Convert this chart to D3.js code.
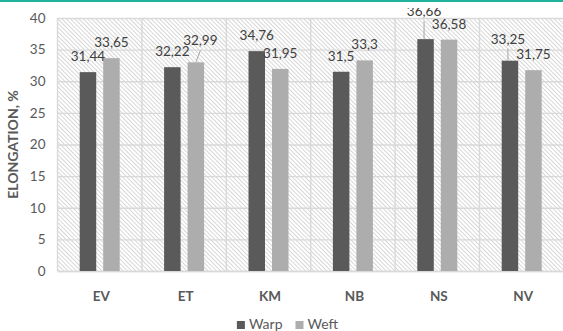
<!DOCTYPE html>
<html>
<head>
<meta charset="utf-8">
<script src="https://cdn.jsdelivr.net/npm/d3@7"></script>
<style>
  html, body { margin: 0; padding: 0; background: #fff; }
  svg { display: block; }
  text { font-family: Lato, "Liberation Sans", sans-serif; }
</style>
</head>
<body>
<svg id="chart" width="563" height="331"></svg>
<script>
// Fabric elongation by sample, warp vs weft direction
const categories = ["EV", "ET", "KM", "NB", "NS", "NV"];
const seriesNames = ["Warp", "Weft"];
const warpValues = [31.44, 32.22, 34.76, 31.5, 36.66, 33.25];
const weftValues = [33.65, 32.99, 31.95, 33.3, 36.58, 31.75];
const valueLabels = [
  ["31,44", "32,22", "34,76", "31,5", "36,66", "33,25"],
  ["33,65", "32,99", "31,95", "33,3", "36,58", "31,75"]
];
const yTicks = [0, 5, 10, 15, 20, 25, 30, 35, 40];
const yTitle = "ELONGATION, %";

// labels pulled away from crowded bars, drawn with a leader line
const labelNudge = {
  "ET|Weft": { dx: 4.5, dy: -6 },
  "NS|Warp": { dx: -1.5, dy: -12 },
  "NV|Warp": { dx: -2, dy: -6 }
};

const seriesValues = [warpValues, weftValues];
const colors = { Warp: "#5a5a5a", Weft: "#adadad" };
const textGray = "#595959";

const svg = d3.select("#chart");
const W = 563, H = 331;
const plot = { left: 57.5, right: 563.9, top: 18, bottom: 271 };
const frameTop = 8; // content below the accent band

// accent rule across the top
svg.append("rect").attr("x", 0).attr("y", 0).attr("width", W).attr("height", 2)
  .attr("fill", "#1fb39c");

const x0 = d3.scaleBand().domain(categories).range([plot.left, plot.right])
  .paddingInner(0).paddingOuter(0);
const x1 = d3.scaleBand().domain(seriesNames).range([0, x0.bandwidth()])
  .paddingInner(0.298).paddingOuter(0.945);
const y = d3.scaleLinear().domain([0, 40]).range([plot.bottom, plot.top]);

const defs = svg.append("defs");
defs.append("clipPath").attr("id", "frame")
  .append("rect").attr("x", 0).attr("y", frameTop).attr("width", W).attr("height", H - frameTop);

// diagonal hatch fill for the plot area
const pat = defs.append("pattern").attr("id", "hatch")
  .attr("patternUnits", "userSpaceOnUse")
  .attr("width", 3).attr("height", 3)
  .attr("patternTransform", "rotate(-45)");
pat.append("rect").attr("width", 3).attr("height", 3).attr("fill", "#ffffff");
pat.append("line").attr("x1", 0.5).attr("y1", 0).attr("x2", 0.5).attr("y2", 3)
  .attr("stroke", "#d2d2d2").attr("stroke-width", 0.9);

svg.append("rect")
  .attr("x", plot.left).attr("y", plot.top)
  .attr("width", plot.right - plot.left).attr("height", plot.bottom - plot.top)
  .attr("fill", "url(#hatch)");

// horizontal gridlines
const yAxis = d3.axisLeft(y).tickValues(yTicks).tickSize(-(plot.right - plot.left)).tickPadding(12);
const gy = svg.append("g").attr("transform", `translate(${plot.left},0)`).call(yAxis);
gy.select(".domain").remove();
gy.selectAll(".tick line").attr("stroke", "#d9d9d9").attr("stroke-width", 1.4);
gy.selectAll(".tick text").attr("fill", textGray).attr("font-size", "13.5px");

// vertical gridlines on category boundaries
const bounds = categories.map(c => x0(c)).concat([x0(categories[categories.length - 1]) + x0.bandwidth()]);
svg.append("g").selectAll("line").data(bounds).join("line")
  .attr("x1", d => d).attr("x2", d => d)
  .attr("y1", plot.top).attr("y2", plot.bottom)
  .attr("stroke", "#d9d9d9").attr("stroke-width", 1.4);

// category axis
const xAxis = d3.axisBottom(x0).tickSize(0).tickPadding(20);
const gx = svg.append("g").attr("transform", `translate(0,${plot.bottom})`).call(xAxis);
gx.select(".domain").attr("stroke", "#d9d9d9").attr("stroke-width", 1.4);
gx.selectAll(".tick text").attr("fill", textGray).attr("font-size", "13.5px")
  .attr("font-weight", "bold").attr("dx", 1.5);

// bars
const rows = categories.map((c, i) => ({
  cat: c,
  vals: seriesNames.map((s, j) => ({ cat: c, series: s, value: seriesValues[j][i], label: valueLabels[j][i] }))
}));

const groups = svg.append("g").attr("clip-path", "url(#frame)")
  .selectAll("g").data(rows).join("g")
  .attr("transform", d => `translate(${x0(d.cat)},0)`);

groups.selectAll("rect").data(d => d.vals).join("rect")
  .attr("x", d => x1(d.series))
  .attr("width", x1.bandwidth())
  .attr("y", d => y(d.value))
  .attr("height", d => y(0) - y(d.value))
  .attr("fill", d => colors[d.series]);

// value labels
const labelGap = 11;
groups.each(function (row) {
  const g = d3.select(this);
  row.vals.forEach(d => {
    const cx = x1(d.series) + x1.bandwidth() / 2;
    const top = y(d.value);
    const n = labelNudge[d.cat + "|" + d.series] || { dx: 0, dy: 0 };
    const lx = cx + n.dx, ly = top - labelGap + n.dy;
    if (n.dx !== 0 || n.dy !== 0) {
      g.append("line")
        .attr("x1", lx).attr("y1", ly + 5)
        .attr("x2", cx + (n.dx > 3 ? 0 : n.dx)).attr("y2", top)
        .attr("stroke", "#a6a6a6").attr("stroke-width", 1);
    }
    g.append("text")
      .attr("x", lx).attr("y", ly)
      .attr("text-anchor", "middle")
      .attr("fill", "#404040").attr("font-size", "13.5px")
      .text(d.label);
  });
});

// y-axis title
svg.append("text")
  .attr("transform", `translate(18,${(plot.top + plot.bottom) / 2}) rotate(-90)`)
  .attr("text-anchor", "middle")
  .attr("fill", textGray).attr("font-size", "14px").attr("font-weight", "bold")
  .text(yTitle);

// legend
const legend = svg.append("g");
let lx = 0;
seriesNames.forEach((s, i) => {
  const item = legend.append("g").attr("transform", `translate(${lx},0)`);
  item.append("rect").attr("x", 0).attr("y", -8).attr("width", 8).attr("height", 8)
    .attr("fill", colors[s]);
  const t = item.append("text").attr("x", 12).attr("y", 0)
    .attr("fill", textGray).attr("font-size", "14px").text(s);
  lx += 12 + t.node().getComputedTextLength() + 13;
});
const legendWidth = lx - 13;
legend.attr("transform", `translate(${287.5 - legendWidth / 2},329)`);
</script>
</body>
</html>
